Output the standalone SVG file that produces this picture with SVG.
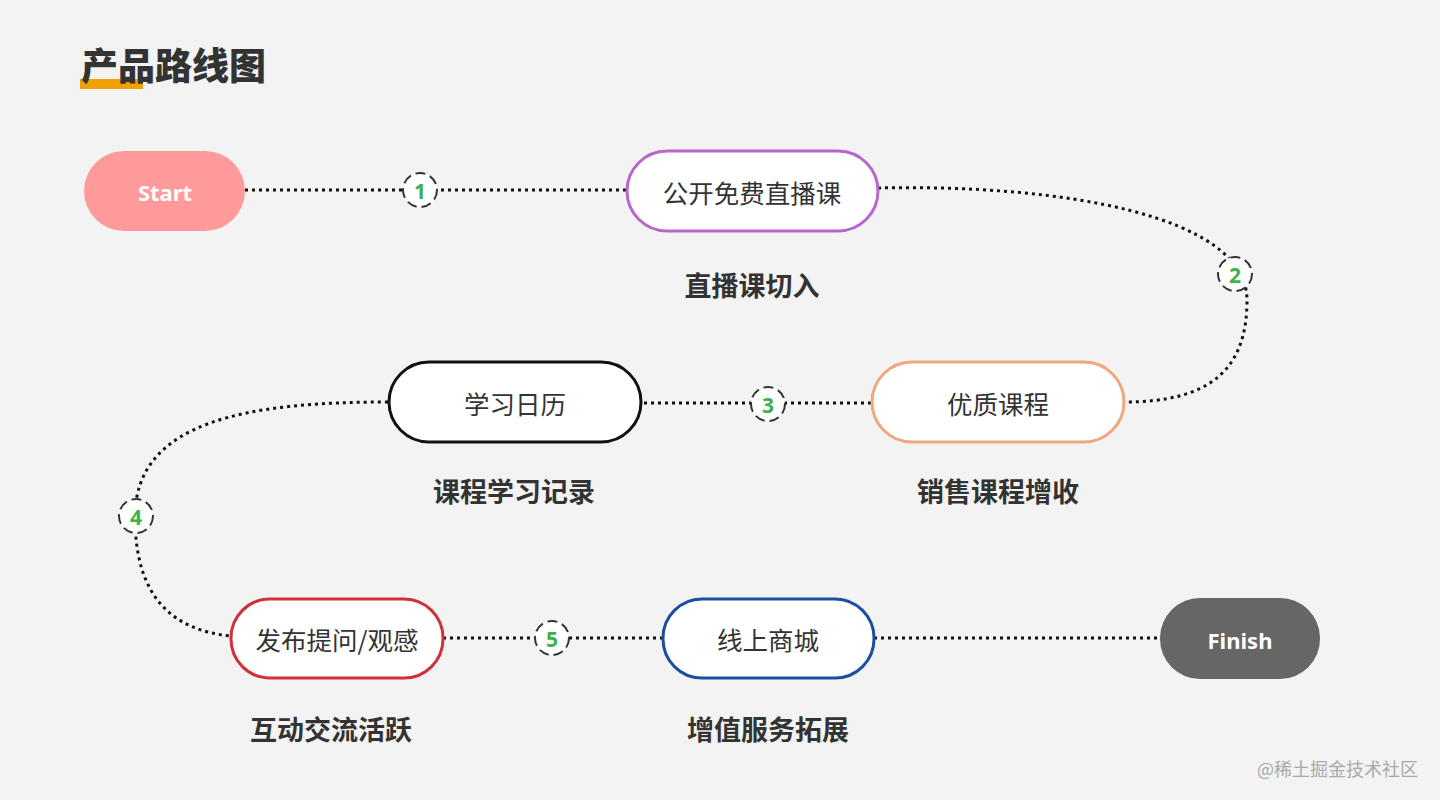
<svg xmlns="http://www.w3.org/2000/svg" width="1440" height="800" viewBox="0 0 1440 800">
<defs>
<style>
.bg{fill:#f3f3f3}
.node{fill:#ffffff;stroke-width:3}
.nt{font-family:"Noto Sans CJK SC","Noto Sans",sans-serif;font-size:25.5px;fill:#333333;text-anchor:middle;dominant-baseline:central}
.tt{font-family:"Noto Sans","Noto Sans CJK SC",sans-serif;font-size:22px;font-weight:bold;fill:#ffffff;text-anchor:middle;dominant-baseline:central}
.lb{font-family:"Noto Sans CJK SC",sans-serif;font-size:27px;font-weight:bold;fill:#333333;text-anchor:middle;dominant-baseline:central}
.conn{fill:none;stroke:#111111;stroke-width:3;stroke-dasharray:3 4}
.badge{fill:#ffffff;stroke:#333333;stroke-width:2;stroke-dasharray:10 5}
.bn{font-family:"Noto Sans","Liberation Sans",sans-serif;font-size:21px;font-weight:bold;fill:#3cb34a;text-anchor:middle;dominant-baseline:central}
</style>
</defs>
<rect class="bg" x="0" y="0" width="1440" height="800"/>
<g id="title">
<rect x="80" y="79" width="63" height="10" fill="#f0a000"/>
<text x="81" y="64" font-family="Noto Sans CJK SC,sans-serif" font-size="37" font-weight="900" fill="#333333" dominant-baseline="central">产品路线图</text>
</g>
<g id="connectors">
<path class="conn" d="M245,190 L626,190"/>
<path class="conn" d="M878,188 C1060,184 1247,215 1247,300 C1247,370 1210,402 1124,402"/>
<path class="conn" d="M871,403 L641,403"/>
<path class="conn" d="M388,402 C250,402 135,420 135,517 C135,600 175,630 230,636"/>
<path class="conn" d="M443,638 L662,638"/>
<path class="conn" d="M874,638 L1160,638"/>
</g>
<g id="badges">
<g id="badge1"><circle class="badge" cx="420" cy="190" r="17"/><text class="bn" x="420" y="191">1</text></g>
<g id="badge2"><circle class="badge" cx="1235" cy="274" r="17"/><text class="bn" x="1235" y="275">2</text></g>
<g id="badge3"><circle class="badge" cx="768" cy="404" r="17"/><text class="bn" x="768" y="405">3</text></g>
<g id="badge4"><circle class="badge" cx="136" cy="516" r="17"/><text class="bn" x="136" y="517">4</text></g>
<g id="badge5"><circle class="badge" cx="552" cy="638" r="17"/><text class="bn" x="552" y="639">5</text></g>
</g>
<g id="start">
<rect x="84" y="151" width="161" height="80" rx="40" fill="#ff9a9a"/>
<text class="tt" x="165" y="192">Start</text>
</g>
<g id="node-live">
<rect class="node" x="627" y="151" width="251" height="80" rx="40" stroke="#b966cc"/>
<text class="nt" x="752" y="191">公开免费直播课</text>
</g>
<text class="lb" x="752" y="284">直播课切入</text>
<g id="node-course">
<rect class="node" x="872" y="362" width="252" height="80" rx="40" stroke="#eea77e"/>
<text class="nt" x="998" y="402">优质课程</text>
</g>
<text class="lb" x="998" y="490">销售课程增收</text>
<g id="node-calendar">
<rect class="node" x="389" y="362" width="252" height="80" rx="40" stroke="#111111"/>
<text class="nt" x="515" y="402">学习日历</text>
</g>
<text class="lb" x="514" y="490">课程学习记录</text>
<g id="node-post">
<rect class="node" x="231" y="599" width="212" height="79" rx="39" stroke="#d0303a"/>
<text class="nt" x="337" y="638">发布提问/观感</text>
</g>
<text class="lb" x="331" y="728">互动交流活跃</text>
<g id="node-mall">
<rect class="node" x="663" y="599" width="211" height="79" rx="39" stroke="#1a4fa0"/>
<text class="nt" x="768" y="638">线上商城</text>
</g>
<text class="lb" x="768" y="728">增值服务拓展</text>
<g id="finish">
<rect x="1160" y="598" width="160" height="81" rx="40" fill="#666666"/>
<text class="tt" x="1240" y="640">Finish</text>
</g>
<text x="1418" y="768" text-anchor="end" dominant-baseline="central" font-family="Noto Sans CJK SC,sans-serif" font-size="18" fill="#aaaaaa">@稀土掘金技术社区</text>
</svg>
